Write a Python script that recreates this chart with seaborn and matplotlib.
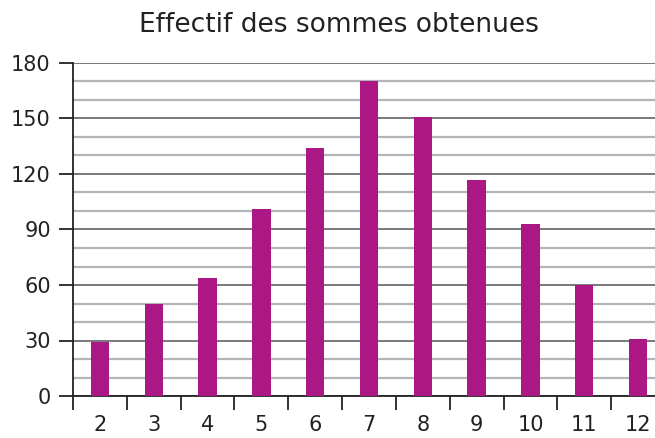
import matplotlib
matplotlib.use("Agg")
import matplotlib.pyplot as plt
import seaborn as sns
import pandas as pd
from matplotlib.ticker import MultipleLocator, FixedLocator

sommes = ["2", "3", "4", "5", "6", "7", "8", "9", "10", "11", "12"]
effectifs = [29, 50, 64, 101, 134, 170, 151, 117, 93, 60, 31]
title = "Effectif des sommes obtenues"

df = pd.DataFrame({"somme": sommes, "effectif": effectifs})

sns.set_style("white")
plt.rcParams["font.family"] = ["DejaVu Sans"]

fig = plt.figure(figsize=(6.55, 4.38), dpi=100)
ax = fig.add_axes([73/655, 42/438, 592/655, 333/438])

sns.barplot(data=df, x="somme", y="effectif", color="#ab1883", width=0.34,
            saturation=1, linewidth=0, edgecolor="none", ax=ax, zorder=3)

ax.set_ylim(0, 180)
ax.set_xlim(-0.5, 10.5)
ax.yaxis.set_major_locator(MultipleLocator(30))
ax.yaxis.set_minor_locator(MultipleLocator(10))
ax.grid(False)
ax.grid(axis="y", which="minor", color="#b3b6b9", linewidth=1.6, zorder=0)
ax.grid(axis="y", which="major", color="#77797c", linewidth=1.4, zorder=1)
ax.set_axisbelow(True)

ax.xaxis.set_minor_locator(FixedLocator([i - 0.5 for i in range(12)]))
ax.tick_params(axis="x", which="major", length=0, pad=14, labelsize=15, colors="#222222")
ax.tick_params(axis="x", which="minor", length=10, width=1.3, color="#222222", direction="out", bottom=True)
ax.tick_params(axis="y", which="major", length=10, width=1.3, color="#222222", direction="out", left=True, labelsize=15, labelcolor="#222222", pad=6)
ax.tick_params(axis="y", which="minor", length=0)

for s in ["top", "right"]:
    ax.spines[s].set_visible(False)
for s in ["left", "bottom"]:
    ax.spines[s].set_color("#222222")
    ax.spines[s].set_linewidth(1.3)

ax.set_xlabel("")
ax.set_ylabel("")
fig.text(339/655, 1 - 25/438, title, ha="center", va="center", fontsize=19, color="#222222")

fig.savefig("out.png", dpi=100)
